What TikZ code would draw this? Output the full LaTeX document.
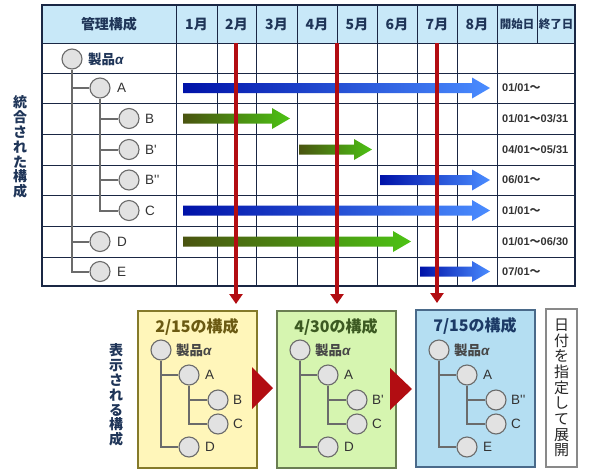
\documentclass[tikz,border=0pt]{standalone}
\usepackage{fontspec}
\setmainfont{Liberation Sans}[Ligatures=TeXOff]
\newfontfamily\jp{Noto Sans CJK JP}
\usetikzlibrary{arrows.meta}
\definecolor{navy}{HTML}{1F3558}
\definecolor{gridc}{HTML}{1A2744}
\definecolor{hdrfill}{HTML}{C8E8F8}
\definecolor{treeg}{HTML}{6B6B6B}
\definecolor{circf}{HTML}{E2E2E2}
\definecolor{labc}{HTML}{333333}
\definecolor{redc}{HTML}{B20D12}
\definecolor{bdark}{HTML}{0012A8}
\definecolor{blight}{HTML}{4A8CFF}
\definecolor{gdark}{HTML}{4A5410}
\definecolor{glight}{HTML}{4CC214}
\definecolor{yfill}{HTML}{FFF6BA}
\definecolor{yline}{HTML}{857A2A}
\definecolor{ytext}{HTML}{6B5A12}
\definecolor{gfill}{HTML}{D6F5B0}
\definecolor{gline}{HTML}{6A7E52}
\definecolor{gtext}{HTML}{3C5A22}
\definecolor{bfill}{HTML}{B4DEF2}
\definecolor{bline}{HTML}{4A6A8A}
\definecolor{btext}{HTML}{1C3A66}
\newcommand\alp{{\rmfamily\bfseries\itshape α}}
\newcommand\wave{{\jp ～}}
\tikzset{
  circ/.style={circle, draw=treeg, fill=circf, line width=1.1pt, minimum size=20pt, inner sep=0pt},
  tree/.style={draw=treeg, line width=2pt},
  lab/.style={anchor=west, inner sep=0pt, font=\fontsize{13.5}{13.5}\selectfont, text=labc},
  prod/.style={anchor=west, inner sep=0pt, font=\jp\bfseries\fontsize{13.5}{13.5}\selectfont, text=navy},
  prodb/.style={anchor=west, inner sep=0pt, font=\jp\bfseries\fontsize{13.5}{13.5}\selectfont, text=labc!90},
  hdr/.style={inner sep=0pt, font=\jp\bfseries\fontsize{14}{14}\selectfont, text=navy},
  hdrs/.style={inner sep=0pt, font=\jp\bfseries\fontsize{11.5}{11.5}\selectfont, text=navy},
  datel/.style={anchor=west, inner sep=0pt, font=\bfseries\fontsize{11}{11}\selectfont, text=labc},
  grid/.style={draw=gridc, line width=1pt},
  redarrow/.style={draw=redc, line width=3.5pt, -{Triangle[width=13pt,length=10pt]}},
  outbox/.style={line width=2pt, minimum width=119pt, minimum height=157pt, inner sep=0pt},
  boxtitle/.style={inner sep=0pt, font=\jp\bfseries\fontsize{16}{16}\selectfont},
  vtext/.style={align=center, inner sep=0pt, font=\jp\bfseries\fontsize{14}{14.8}\selectfont, text=navy},
}
\newcommand\bararrow[5]{%
  \shade[left color=#4, right color=#5] (#1,#3-5) -- (#2-18,#3-5) -- (#2-18,#3-10.5) -- (#2,#3) -- (#2-18,#3+10.5) -- (#2-18,#3+5) -- (#1,#3+5) -- cycle;}
\newcommand\boxtree[4]{%
  \node[circ] (#1r) at (161,350) {};
  \node[prodb] (#1lr) at (176,350) {製品\alp};
  \node[circ] (#1a) at (189,375) {};
  \node[lab] (#1la) at (205,375) {A};
  \node[circ] (#1b) at (218,400) {};
  \node[lab] (#1lb) at (233,400) {#2};
  \node[circ] (#1c) at (218,424) {};
  \node[lab] (#1lc) at (233,424) {C};
  \node[circ] (#1d) at (189,447) {};
  \node[lab] (#1ld) at (205,447) {#3};
  \draw[tree] (#1r.south) |- (#1d.west);
  \draw[tree] (#1r |- #1a) -- (#1a.west);
  \draw[tree] (#1a.south) |- (#1c.west);
  \draw[tree] (#1a |- #1b) -- (#1b.west);
}
\begin{document}
\begin{tikzpicture}[x=1pt,y=-1pt]
\useasboundingbox (0,0) rectangle (590,475);
% table
\fill[white] (42,5) rectangle (575,286);
\fill[hdrfill] (42,5) rectangle (575,43);
\foreach \yy in {43,73,103,134,165,195,226,257}
  \draw[grid] (42,\yy) -- (575,\yy);
\foreach \xx in {176,217,256,297,337,377,417,457,497}
  \draw[grid] (\xx,5) -- (\xx,286);
\draw[grid] (537,5) -- (537,43);
\draw[draw=gridc, line width=2.6pt] (42,5) rectangle (575,286);
% header
\node[hdr] (h0) at (109,24) {管理構成};
\node[hdr] (h1) at (196.5,24) {1月};
\node[hdr] (h2) at (236.5,24) {2月};
\node[hdr] (h3) at (276.5,24) {3月};
\node[hdr] (h4) at (317,24) {4月};
\node[hdr] (h5) at (357,24) {5月};
\node[hdr] (h6) at (397,24) {6月};
\node[hdr] (h7) at (437,24) {7月};
\node[hdr] (h8) at (477,24) {8月};
\node[hdrs] (h9) at (517,24) {開始日};
\node[hdrs] (h10) at (556,24) {終了日};
% left labels
\node[vtext] (lv1) at (20,147) {統\\合\\さ\\れ\\た\\構\\成};
\node[vtext] (lv2) at (116,395) {表\\示\\さ\\れ\\る\\構\\成};
% tree in table
\node[circ] (t0) at (72,59) {};
\node[prod] (l0) at (88,59) {製品\alp};
\node[circ] (tA) at (100,88) {};
\node[lab] (lA) at (117,88) {A};
\node[circ] (tB) at (129,118.5) {};
\node[lab] (lB) at (145,118.5) {B};
\node[circ] (tB1) at (129,149.5) {};
\node[lab] (lB1) at (145,149.5) {B'};
\node[circ] (tB2) at (129,180) {};
\node[lab] (lB2) at (145,180) {B''};
\node[circ] (tC) at (129,210.5) {};
\node[lab] (lC) at (145,210.5) {C};
\node[circ] (tD) at (100,241.5) {};
\node[lab] (lD) at (117,241.5) {D};
\node[circ] (tE) at (100,271.5) {};
\node[lab] (lE) at (117,271.5) {E};
\draw[tree] (t0.south) |- (tE.west);
\draw[tree] (t0 |- tA) -- (tA.west);
\draw[tree] (t0 |- tD) -- (tD.west);
\draw[tree] (tA.south) |- (tC.west);
\draw[tree] (tA |- tB) -- (tB.west);
\draw[tree] (tA |- tB1) -- (tB1.west);
\draw[tree] (tA |- tB2) -- (tB2.west);
% bars
\bararrow{183}{490}{88}{bdark}{blight}
\bararrow{183}{290}{118.5}{gdark}{glight}
\bararrow{299}{372}{149.5}{gdark}{glight}
\bararrow{380}{490}{180}{bdark}{blight}
\bararrow{183}{490}{210.5}{bdark}{blight}
\bararrow{183}{411}{241.5}{gdark}{glight}
\bararrow{420}{490}{271.5}{bdark}{blight}
% dates
\node[datel] (dA) at (502,88) {01/01\wave};
\node[datel] (dB) at (502,118.5) {01/01\wave 03/31};
\node[datel] (dB1) at (502,149.5) {04/01\wave 05/31};
\node[datel] (dB2) at (502,180) {06/01\wave};
\node[datel] (dC) at (502,210.5) {01/01\wave};
\node[datel] (dD) at (502,241.5) {01/01\wave 06/30};
\node[datel] (dE) at (502,271.5) {07/01\wave};
% red lines
\coordinate (r1s) at (236,43);
\coordinate (r1e) at (236,304);
\coordinate (r2s) at (337,43);
\coordinate (r2e) at (337,304);
\coordinate (r3s) at (437,43);
\coordinate (r3e) at (437,303);
\draw[redarrow] (r1s) -- (r1e);
\draw[redarrow] (r2s) -- (r2e);
\draw[redarrow] (r3s) -- (r3e);
% boxes
\node[outbox, fill=yfill, draw=yline] (b1) at (197.5,389.5) {};
\node[outbox, fill=gfill, draw=gline] (b2) at (336.5,389.5) {};
\node[outbox, fill=bfill, draw=bline] (b3) at (475,388) {};
\node[draw=treeg!80, line width=1.6pt, fill=white, minimum width=31pt, minimum height=158pt, inner sep=0pt] (b4) at (561.5,388) {};
\node[align=center, inner sep=0pt, font=\jp\fontsize{15}{15.7}\selectfont, text=black!85] (b4t) at (561.5,388) {日\\付\\を\\指\\定\\し\\て\\展\\開};
\node[boxtitle, text=ytext] (bt1) at (197,327) {2/15の構成};
\node[boxtitle, text=gtext] (bt2) at (336,327) {4/30の構成};
\node[boxtitle, text=btext] (bt3) at (475,326) {7/15の構成};
\boxtree{p}{B}{D}{}
\begin{scope}[xshift=139pt]
\boxtree{q}{B'}{D}{}
\end{scope}
\begin{scope}[xshift=278pt]
\boxtree{s}{B''}{E}{}
\end{scope}
% red triangles
\fill[redc] (252,367) -- (273,388) -- (252,409) -- cycle;
\fill[redc] (390,368) -- (412,389) -- (390,410) -- cycle;
\end{tikzpicture}
\end{document}
